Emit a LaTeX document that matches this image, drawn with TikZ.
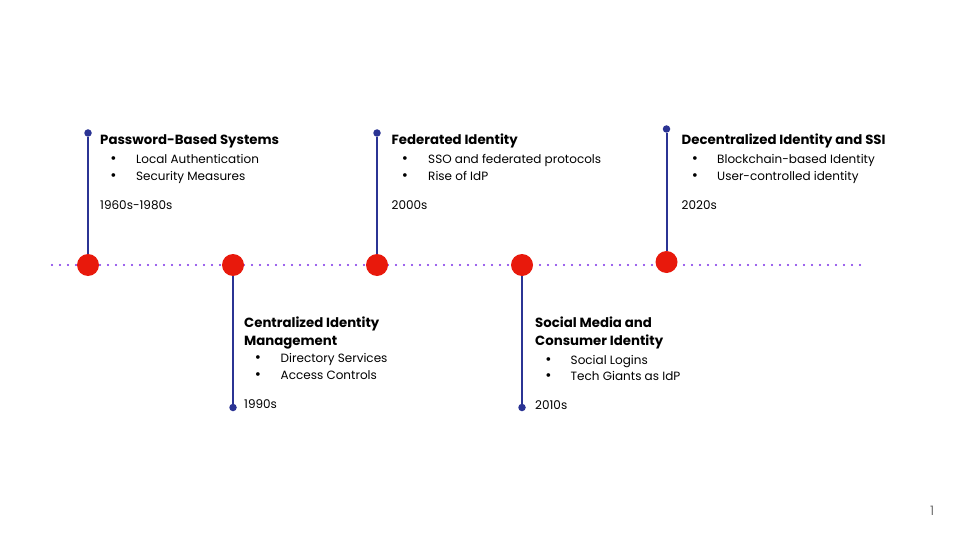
\documentclass[tikz,border=0pt]{standalone}
\usepackage{fontspec}
\setmainfont{Poppins}
\usetikzlibrary{positioning}
\definecolor{eventred}{HTML}{E8190C}
\definecolor{stemblue}{HTML}{2B3494}
\definecolor{dotpurple}{HTML}{7B2FE6}
\definecolor{pagegrey}{HTML}{757575}
\tikzset{
  milestone/.style={circle, fill=eventred, minimum size=22pt, inner sep=0pt},
  stemtip/.style={circle, fill=stemblue, minimum size=7.5pt, inner sep=0pt},
  stem/.style={draw=stemblue, line width=2pt},
  dotline/.style={draw=dotpurple, line width=2.4pt, line cap=round, dash pattern=on 0pt off 8pt},
  title/.style={anchor=base west, inner sep=0pt, font=\fontsize{13.3}{15}\selectfont\bfseries},
  item/.style={anchor=base west, inner sep=0pt, font=\fontsize{12}{14}\selectfont},
  bul/.style={anchor=base, inner sep=0pt, font=\fontsize{15}{15}\selectfont}
}
\begin{document}
\begin{tikzpicture}[x=1pt, y=-1pt]
\useasboundingbox (0,0) rectangle (960,540);
% timeline
\coordinate (left) at (52,265);
\coordinate (right) at (862,265);
\draw[dotline] (left) -- (right);
% 1960s-1980s
\node[stemtip] (tip1) at (88,133) {};
\node[milestone] (ev1) at (88,265) {};
\draw[stem] (ev1) -- (tip1);
\node[title] (pwd) at (100,145) {Password-Based Systems};
\node[bul] at (113.5,164) {•}; \node[item] (pwd1) at (136,164) {Local Authentication};
\node[bul] at (113.5,180.5) {•}; \node[item] (pwd2) at (136,180.5) {Security Measures};
\node[item] (y1) at (100,209.5) {1960s-1980s};
% 1990s
\node[stemtip] (tip2) at (233,407.5) {};
\node[milestone] (ev2) at (233,265) {};
\draw[stem] (ev2) -- (tip2);
\node[title] (cim) at (244,327.5) {Centralized Identity};
\node[title] at (244,345) {Management};
\node[bul] at (258,362) {•}; \node[item] (cim1) at (280.5,362) {Directory Services};
\node[bul] at (258,379) {•}; \node[item] (cim2) at (280.5,379) {Access Controls};
\node[item] (y2) at (244,408.5) {1990s};
% 2000s
\node[stemtip] (tip3) at (377,133) {};
\node[milestone] (ev3) at (377,265) {};
\draw[stem] (ev3) -- (tip3);
\node[title] (fed) at (391.5,145) {Federated Identity};
\node[bul] at (405,164) {•}; \node[item] (fed1) at (428,164) {SSO and federated protocols};
\node[bul] at (405,180.5) {•}; \node[item] (fed2) at (428,180.5) {Rise of IdP};
\node[item] (y3) at (391.5,209.5) {2000s};
% 2010s
\node[stemtip] (tip4) at (522,407.5) {};
\node[milestone] (ev4) at (522,265) {};
\draw[stem] (ev4) -- (tip4);
\node[title] (soc) at (535,327.5) {Social Media and};
\node[title] at (535,345) {Consumer Identity};
\node[bul] at (548.5,364) {•}; \node[item] (soc1) at (570.5,364) {Social Logins};
\node[bul] at (548.5,380.5) {•}; \node[item] (soc2) at (570.5,380.5) {Tech Giants as IdP};
\node[item] (y4) at (535,409.5) {2010s};
% 2020s
\node[stemtip] (tip5) at (666.5,129) {};
\node[milestone] (ev5) at (666.5,262) {};
\draw[stem] (ev5) -- (tip5);
\node[title] (ssi) at (681.5,145) {Decentralized Identity and SSI};
\node[bul] at (695,164) {•}; \node[item] (ssi1) at (717,164) {Blockchain-based Identity};
\node[bul] at (695,180.5) {•}; \node[item] (ssi2) at (717,180.5) {User-controlled identity};
\node[item] (y5) at (681.5,209.5) {2020s};
% page number
\node[item, text=pagegrey, font=\fontsize{13}{15}\selectfont] (page) at (930,515.5) {1};
\end{tikzpicture}
\end{document}
